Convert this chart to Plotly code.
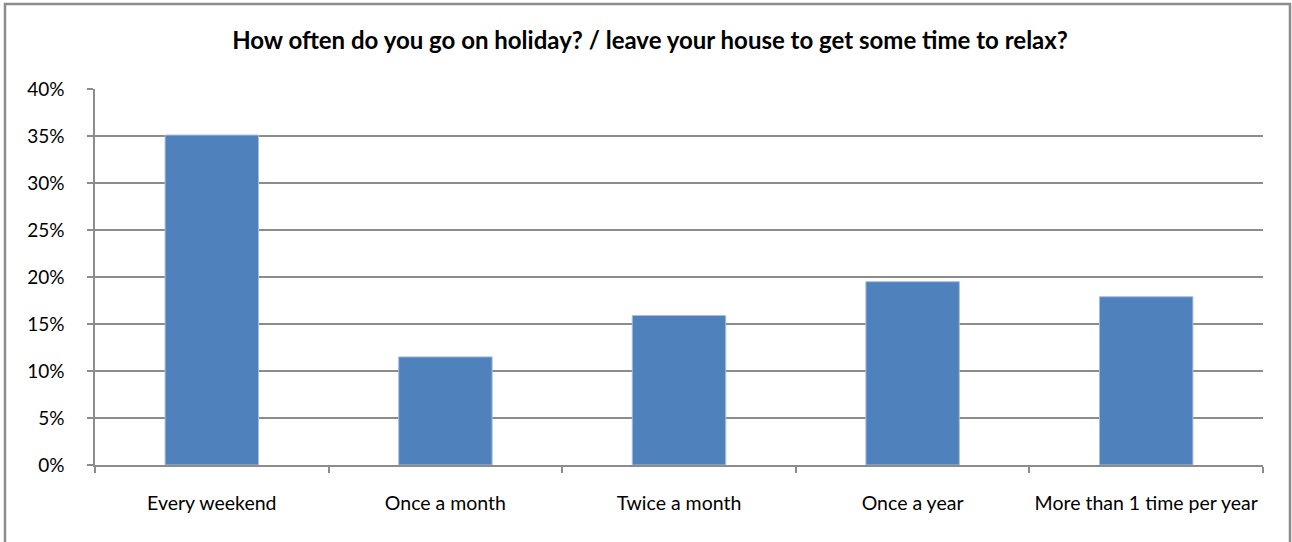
import plotly.graph_objects as go

categories = ["Every weekend", "Once a month", "Twice a month", "Once a year", "More than 1 time per year"]
values = [0.351, 0.115, 0.159, 0.195, 0.179]
title_text = "How often do you go on holiday? / leave your house to get some time to relax?"

W, H = 1292, 542
L, R, T, B = 95, 29, 89, 77
pw, ph = W - L - R, H - T - B

fig = go.Figure(go.Bar(
    x=categories, y=values,
    marker=dict(color="#4F81BD", line=dict(color="#a7bddb", width=1)),
    width=0.4,
))

FONT = "Lato"
fig.update_layout(
    width=W, height=H,
    margin=dict(l=L, r=R, t=T, b=B),
    plot_bgcolor="white", paper_bgcolor="white",
    font=dict(family=FONT, size=19, color="black"),
    title=dict(text="<b>" + title_text + "</b>", x=650 / W, xanchor="center", xref="container",
               y=1 - 41 / H, yanchor="middle", yref="container",
               font=dict(family=FONT, size=24, color="black")),
    showlegend=False,
    bargap=0.6,
)
fig.update_yaxes(range=[0, 0.4], dtick=0.05, tickformat=".0%",
                 showgrid=True, gridcolor="#8c8c8c", gridwidth=1.5,
                 showline=True, linecolor="#8c8c8c", linewidth=1.5,
                 ticks="outside", ticklen=6, tickcolor="#8c8c8c", tickwidth=1.5,
                 ticklabelstandoff=19, zeroline=False, fixedrange=True)
fig.update_xaxes(showline=True, linecolor="#8c8c8c", linewidth=1.5,
                 ticks="outside", ticklen=6, tickcolor="#8c8c8c", tickwidth=1.5,
                 tickson="boundaries", ticklabelstandoff=20, showgrid=False,
                 tickfont=dict(size=19.5))

# outer chart border
x0 = (5 - L) / pw
x1 = (1290 - L) / pw
y1 = (H - B - 4) / ph
y0 = (H - B - 560) / ph
fig.add_shape(type="rect", xref="paper", yref="paper", x0=x0, x1=x1, y0=y0, y1=y1,
              line=dict(color="#8c8c8c", width=2.5), fillcolor="rgba(0,0,0,0)", layer="above")

fig.write_html("out.html", config={"displayModeBar": False},
               post_script="document.body.style.margin='0';document.body.style.overflow='hidden';")
